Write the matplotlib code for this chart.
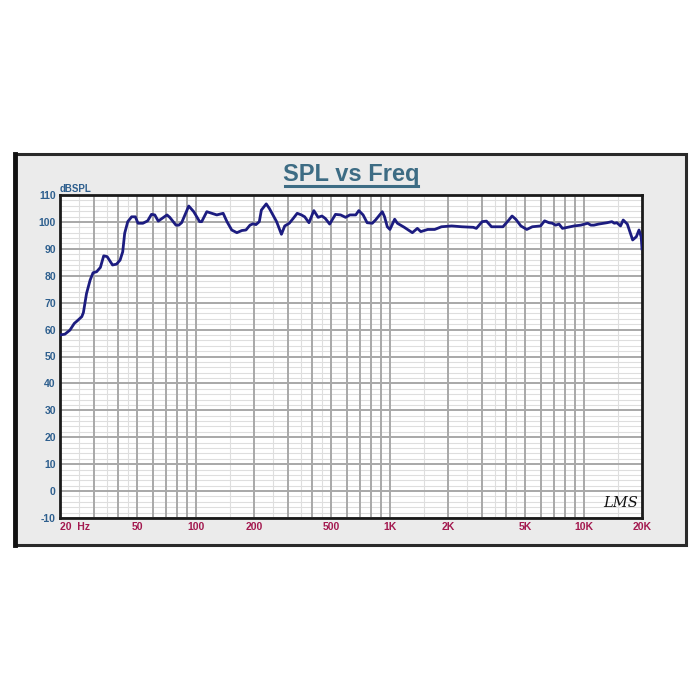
import matplotlib
matplotlib.use("Agg")
import matplotlib.pyplot as plt
from matplotlib.patches import Rectangle
from matplotlib.lines import Line2D
import numpy as np

# ---- data ----
freq = [20, 21.2, 22.5, 23.7, 24.5, 25.9, 26.4, 27.4, 28.6, 29.6, 30.9, 32.3, 33.6, 35.0,
        37.3, 39.1, 40.8, 42.1, 43.1, 44.7, 46.8, 48.9, 50.5, 53.5, 56.6, 59.2, 61.6, 64.2,
        71.2, 73.6, 79.2, 81.9, 84.7, 92.2, 97.8, 104.9, 107.5, 114.2, 121, 128.6, 138.7,
        145.1, 153.5, 163.2, 173.1, 181.8, 190.7, 197.7, 204.7, 213, 218.3, 231.3, 240,
        261.5, 277, 288, 304, 318.6, 334, 351, 365, 384, 407, 428, 448, 466, 491, 526, 559,
        593, 624, 669, 694, 730, 766, 814, 846, 917, 942, 973, 1004, 1062, 1097, 1190, 1310,
        1390, 1448, 1573, 1707, 1851, 2089, 2358, 2700, 2800, 3000, 3155, 3353, 3840, 4117,
        4280, 4470, 4750, 5096, 5440, 6000, 6295, 6632, 6900, 7180, 7470, 7780, 8260, 8930,
        9670, 10150, 10500, 10900, 11300, 11950, 12680, 13200, 14000, 14400, 14830, 15500,
        16000, 16800, 17900, 18700, 19300, 19800, 20000]
spl = [58.0, 58.3, 59.8, 62.3, 63.2, 64.8, 66.3, 73.4, 78.4, 81.1, 81.5, 83.1, 87.4, 87.1,
       84.0, 84.3, 85.8, 88.9, 95.8, 100.1, 101.9, 101.9, 99.5, 99.5, 100.4, 102.8, 102.6,
       100.3, 102.6, 101.7, 98.8, 98.8, 99.7, 105.9, 103.8, 100.1, 100.1, 103.8, 103.2,
       102.6, 103.2, 100.1, 97.0, 96.0, 96.8, 97.0, 98.8, 99.3, 99.0, 100.1, 104.4, 106.7,
       105.0, 100.1, 95.4, 98.5, 99.5, 101.3, 103.2, 102.6, 101.9, 99.7, 104.2, 101.7, 102.2,
       101.3, 99.2, 102.8, 102.6, 101.7, 102.6, 102.6, 104.2, 102.6, 99.7, 99.5, 100.7,
       103.8, 101.9, 98.2, 97.2, 101.0, 99.5, 98.0, 96.0, 97.6, 96.4, 97.2, 97.2, 98.2,
       98.5, 98.2, 98.0, 97.6, 100.1, 100.3, 98.2, 98.2, 100.7, 102.2, 101.0, 98.5, 97.2,
       98.2, 98.5, 100.4, 99.7, 99.5, 98.8, 99.2, 97.6, 98.0, 98.5, 98.8, 99.2, 99.5, 98.8,
       98.8, 99.2, 99.5, 99.7, 100.1, 99.5, 99.7, 98.5, 100.7, 99.2, 93.3, 94.5, 97.0, 94.5,
       90.0]

y_ticks = [-10, 0, 10, 20, 30, 40, 50, 60, 70, 80, 90, 100, 110]
x_ticks = [20, 50, 100, 200, 500, 1000, 2000, 5000, 10000, 20000]
x_tick_labels = ["20  Hz", "50", "100", "200", "500", "1K", "2K", "5K", "10K", "20K"]
title = "SPL vs Freq"

W, H = 700, 700
fig = plt.figure(figsize=(7, 7), dpi=100)
fig.patch.set_facecolor("white")

def fx(px):
    return px / W

def fy(py):
    return 1 - py / H

# outer panel
fig.patches.append(Rectangle((fx(15), fy(545)), fx(686) - fx(15), fy(154) - fy(545),
                             transform=fig.transFigure, facecolor="#ebebeb",
                             edgecolor="#2a2a2a", linewidth=2.2, zorder=-10))
# thicker left edge
fig.lines.append(Line2D([fx(15), fx(15)], [fy(545), fy(154)], transform=fig.transFigure,
                        color="#111111", linewidth=3.5, zorder=-9))

ax = fig.add_axes([fx(60), fy(518), fx(642) - fx(60), fy(195) - fy(518)])
ax.set_zorder(1)
ax.set_facecolor("white")
ax.set_xscale("log")
ax.set_xlim(20, 20000)
ax.set_ylim(-10, 110)

# grid: horizontal
for v in range(-10, 111, 2):
    if v % 10 == 0:
        ax.axhline(v, color="#a8a8a8", linewidth=1.4, zorder=1)
    else:
        ax.axhline(v, color="#dedede", linewidth=0.8, zorder=0.5)
# grid: vertical
for dec in [10, 100, 1000, 10000]:
    for m in range(1, 10):
        f = m * dec
        if 20 < f < 20000:
            ax.axvline(f, color="#a8a8a8", linewidth=1.4, zorder=1)
    for m in [1.5, 2.5, 3.5, 4.5]:
        f = m * dec
        if 20 < f < 20000:
            ax.axvline(f, color="#dedede", linewidth=0.8, zorder=0.5)

ax.plot(freq, spl, color="#1c1c80", linewidth=2.0, zorder=3, solid_joinstyle="round")

for s in ax.spines.values():
    s.set_color("#1a1a1a")
    s.set_linewidth(2.0)

ax.set_yticks(y_ticks)
ax.set_yticklabels([str(v) for v in y_ticks])
ax.set_xticks(x_ticks)
ax.set_xticklabels(x_tick_labels)
ax.xaxis.set_minor_locator(matplotlib.ticker.NullLocator())
ax.tick_params(axis="both", length=0)
ax.tick_params(axis="y", pad=3, labelsize=7.5, labelcolor="#2e5f8e")
ax.tick_params(axis="x", pad=3, labelsize=7.5, labelcolor="#a3194f")
for lab in ax.get_yticklabels():
    lab.set_fontweight("bold")
    lab.set_family("Liberation Sans")
for lab in ax.get_xticklabels():
    lab.set_fontweight("bold")
    lab.set_family("Liberation Sans")
ax.get_xticklabels()[0].set_horizontalalignment("left")

fig.text(fx(60), fy(189), "dBSPL", color="#2e5f8e", fontsize=7, fontweight="bold",
         family="Liberation Sans", ha="left", va="center")

t = fig.text(fx(351), fy(175), title, color="#3d6c84", fontsize=17, fontweight="bold",
             family="Liberation Sans", ha="center", va="center")
fig.lines.append(Line2D([fx(285), fx(418)], [fy(186), fy(186)], transform=fig.transFigure,
                        color="#3d6c84", linewidth=2.2))

ax.text(0.934, 0.045, "LMS", fontsize=10.5, style="italic", family="DejaVu Serif",
        color="#111111", ha="left", va="center", zorder=4, transform=ax.transAxes)

fig.savefig("out.png", dpi=100, facecolor="white")
